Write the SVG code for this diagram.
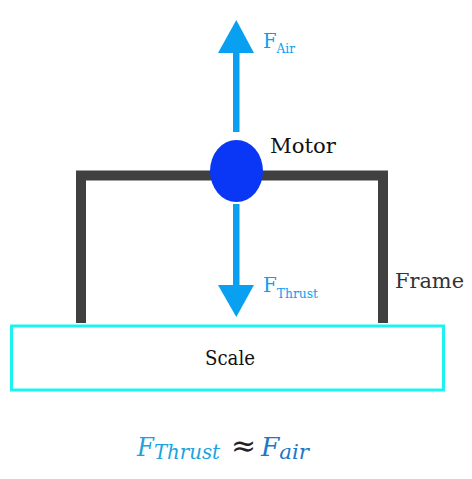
<svg xmlns="http://www.w3.org/2000/svg" width="472" height="479" viewBox="0 0 472 479">
<style>
text{font-family:'DejaVu Serif','Liberation Serif',serif;}
.force{fill:#0AA0F2;}
.it{font-style:italic;}
</style>
<rect width="472" height="479" fill="#fff"/>
<g id="scale">
<rect x="11.5" y="326" width="432" height="64" fill="#fff" stroke="#1CF2F2" stroke-width="3"/>
<text x="205" y="365" font-size="20" fill="#111" textLength="50" lengthAdjust="spacingAndGlyphs">Scale</text>
</g>
<g id="frame">
<path d="M81,323 V175.5 H383 V323" fill="none" stroke="#404040" stroke-width="10"/>
<text x="395" y="288" font-size="21" fill="#333" textLength="69" lengthAdjust="spacingAndGlyphs">Frame</text>
</g>
<g id="connectors">
<rect x="233" y="50" width="6.5" height="82" class="force"/>
<polygon points="236.3,20 218,53 254,53" class="force"/>
<rect x="233" y="204" width="6.5" height="84" class="force"/>
<polygon points="236.3,317 218,285 254,285" class="force"/>
</g>
<g id="motor">
<ellipse cx="236.5" cy="171" rx="26.5" ry="31" fill="#0A36F5"/>
<text x="270" y="153" font-size="21" fill="#111" textLength="66" lengthAdjust="spacingAndGlyphs">Motor</text>
</g>
<g id="label-fair">
<text x="263" y="48" font-size="21" fill="#0AA0F2" textLength="32" lengthAdjust="spacingAndGlyphs">F<tspan font-size="13" dy="5">Air</tspan></text>
</g>
<g id="label-fthrust">
<text x="263" y="292" font-size="21" fill="#0AA0F2" textLength="55" lengthAdjust="spacingAndGlyphs">F<tspan font-size="13" dy="6">Thrust</tspan></text>
</g>
<g id="equation">
<text class="it" x="137" y="456" font-size="26" fill="#1BA3E0" textLength="83" lengthAdjust="spacingAndGlyphs">F<tspan font-size="21" dy="3">Thrust</tspan></text>
<text x="231" y="456" font-size="30" fill="#222">≈</text>
<text class="it" x="261" y="456" font-size="26" fill="#1A78C6" textLength="48" lengthAdjust="spacingAndGlyphs">F<tspan font-size="21" dy="3">air</tspan></text>
</g>
</svg>
